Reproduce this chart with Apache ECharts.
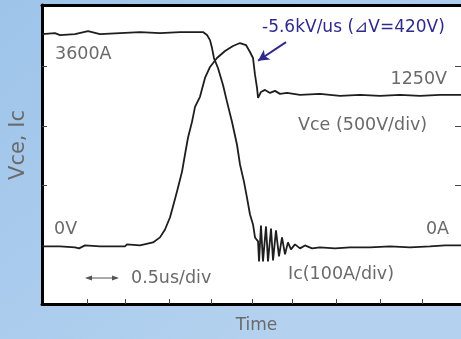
<!DOCTYPE html>
<html>
<head>
<meta charset="utf-8">
<script src="https://cdn.jsdelivr.net/npm/echarts@6/dist/echarts.min.js"></script>
<style>
html,body{margin:0;padding:0;}
#c{width:461px;height:339px;}
</style>
</head>
<body>
<div id="c"></div>
<script>
// time in microseconds
const vceTime = [0,0.215,0.394,0.442,0.513,0.692,0.99,1.014,1.169,1.325,1.408,1.468,1.527,1.563,1.611,1.671,1.706,1.742,1.79,1.826,1.885,1.945,2.005,2.088,2.184,2.279,2.363,2.434,2.482,2.518,2.542,2.566,2.578,2.613,2.661,2.721,2.78,2.84,2.924,3.079,3.317,3.556,3.795,4.033,4.272,4.511,4.749,5];
const vceVolts = [-8,-8,-17,-25,0,-8,-8,8,0,25,67,133,233,325,450,617,758,900,1033,1158,1242,1400,1492,1567,1625,1667,1692,1675,1617,1567,1425,1317,1233,1283,1300,1275,1292,1267,1275,1258,1267,1250,1258,1250,1258,1250,1258,1258];

const icTime = [0,0.155,0.215,0.394,0.549,0.692,0.931,1.169,1.408,1.647,1.826,1.921,1.969,2.005,2.029,2.052,2.1,2.16,2.208,2.267,2.327,2.363,2.41,2.446,2.482,2.518,2.542,2.578,2.59,2.613,2.637,2.673,2.697,2.733,2.757,2.792,2.828,2.864,2.9,2.935,2.971,3.019,3.079,3.138,3.222,3.317,3.496,3.675,3.914,4.153,4.391,4.63,4.809,5];
const icAmps = [3533,3550,3517,3533,3583,3533,3550,3567,3550,3567,3567,3567,3517,3433,3300,3133,2967,2683,2400,2067,1683,1350,1067,800,517,350,133,67,-267,333,-267,317,-267,283,-250,250,-183,133,-150,50,-67,17,-50,0,-50,-33,-50,-33,-33,-17,-33,-17,0,0];

const timeTicks = [0.537,0.99,1.516,2.017,2.506,2.983,3.508,4.033,4.535];
const vceTicks = [500,1000,1500];
const icTicks = [1000,2000,3000];

const slopeArrow = [[2.912,1700],[2.578,1544]];

const zip = (a,b) => a.map((v,i)=>[v,b[i]]);
const FONT = 'DejaVu Sans';
const GREY = '#6a6a6a';

function txt(text, x, y, opts) {
  opts = opts || {};
  return {
    type: 'text', x: x, y: y, rotation: opts.rotation || 0, silent: true,
    style: {
      text: text, x: 0, y: 0,
      fill: opts.color || GREY,
      font: (opts.size || 17.5) + 'px "' + FONT + '"',
      textAlign: opts.align || 'left', align: opts.align || 'left',
      textVerticalAlign: 'middle', verticalAlign: 'middle'
    }
  };
}

const chart = echarts.init(document.getElementById('c'), null, {renderer:'canvas'});
chart.setOption({
  animation: false,
  backgroundColor: {
    type: 'linear', x: 0, y: 0, x2: 0.6, y2: 1,
    colorStops: [{offset:0,color:'#9ec4ea'},{offset:1,color:'#b4d2ef'}]
  },
  grid: {left: 42, top: 5, right: 0, bottom: 35, show: true, backgroundColor: '#ffffff', borderWidth: 0},
  xAxis: [
    {type:'value', min:0, max:5, position:'bottom',
     axisLine:{show:true, onZero:false, lineStyle:{color:'#000', width:3}},
     axisTick:{show:true, inside:true, length:5, customValues: timeTicks, lineStyle:{color:'#444', width:1}},
     axisLabel:{show:false}, splitLine:{show:false}},
    {type:'value', min:0, max:5, position:'top',
     axisLine:{show:true, onZero:false, lineStyle:{color:'#000', width:3}},
     axisTick:{show:false}, axisLabel:{show:false}, splitLine:{show:false}}
  ],
  yAxis: [
    {type:'value', min:-490, max:2010, position:'left',
     axisLine:{show:true, onZero:false, lineStyle:{color:'#000', width:3}},
     axisTick:{show:true, inside:true, length:5, customValues: vceTicks, lineStyle:{color:'#444', width:1}},
     axisLabel:{show:false}, splitLine:{show:false}},
    {type:'value', min:-980, max:4020, position:'right',
     axisLine:{show:false, onZero:false},
     axisTick:{show:true, inside:true, length:6, customValues: icTicks, lineStyle:{color:'#444', width:1}},
     axisLabel:{show:false}, splitLine:{show:false}}
  ],
  series: [
    {type:'line', name:'Vce', xAxisIndex:0, yAxisIndex:0, data: zip(vceTime, vceVolts),
     showSymbol:false, lineStyle:{color:'#1e1e1e', width:1.8}, silent:true,
     markLine:{silent:true, symbol:['none','arrow'], symbolSize:[9,11],
       lineStyle:{color:'#2e2a8c', width:2, type:'solid'}, label:{show:false},
       data:[[{coord: slopeArrow[0]},{coord: slopeArrow[1]}]]}},
    {type:'line', name:'Ic', xAxisIndex:0, yAxisIndex:1, data: zip(icTime, icAmps),
     showSymbol:false, lineStyle:{color:'#1e1e1e', width:1.8}, silent:true}
  ],
  graphic: [
    txt('3600A', 55, 54),
    txt('1250V', 447, 79, {align:'right'}),
    txt('Vce (500V/div)', 298, 125.5),
    txt('0V', 54, 229.5),
    txt('0A', 449, 229.5, {align:'right'}),
    txt('0.5us/div', 131, 278),
    txt('Ic(100A/div)', 288, 274),
    txt('-5.6kV/us (⊿V=420V)', 262, 28, {color:'#2e2a8c', size:17}),
    txt('Time', 256.5, 326, {align:'center', size:17}),
    txt('Vce, Ic', 19, 145, {align:'center', size:21, rotation: Math.PI/2}),
    {type:'line', silent:true, shape:{x1:87, y1:278, x2:117, y2:278}, style:{stroke:'#555', lineWidth:1}},
    {type:'polygon', silent:true, shape:{points:[[85,278],[92,275.5],[92,280.5]]}, style:{fill:'#555'}},
    {type:'polygon', silent:true, shape:{points:[[119,278],[112,275.5],[112,280.5]]}, style:{fill:'#555'}}
  ]
});
</script>
</body>
</html>
